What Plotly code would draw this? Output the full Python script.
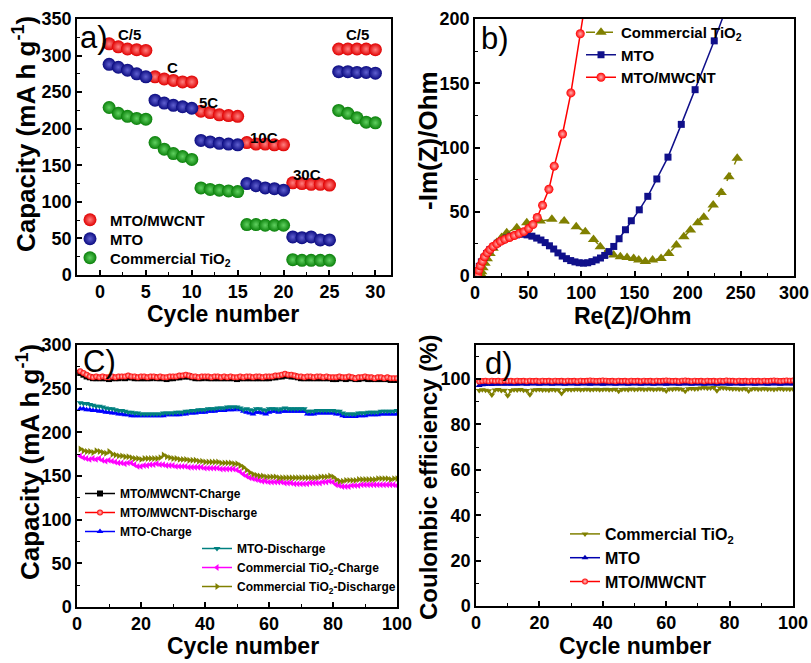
import plotly.graph_objects as go

# ---------------- Panel a: rate capability ----------------
cycles_a = list(range(1, 31))
cap_mwcnt = [316, 312, 309, 308, 307, 271, 268, 266, 264, 264, 224, 222, 219, 218, 217,
             181, 179, 179, 178, 178, 126, 125, 124, 124, 123, 309, 309, 309, 309, 308]
cap_mto = [288, 284, 280, 275, 271, 239, 235, 232, 230, 228, 184, 182, 180, 179, 178,
           125, 122, 119, 118, 116, 52, 51, 52, 48, 48, 278, 278, 277, 277, 276]
cap_tio2 = [229, 221, 217, 214, 213, 181, 172, 166, 162, 158, 119, 117, 116, 115, 114,
            69, 69, 68, 68, 68, 21, 20, 20, 20, 20, 225, 221, 215, 209, 208]
rate_labels = ["C/5", "C", "5C", "10C", "30C", "C/5"]

# ---------------- Panel b: Nyquist ----------------
re_tio2 = [4.7, 5.5, 6.3, 7.5, 9.4, 11.5, 14.1, 17, 20.4, 25, 29.8, 39.3, 48.7, 61.3, 72.3,
           83.9, 95.2, 103.7, 111.5, 117.8, 124, 130.4, 136.7, 143, 149.2, 154, 160.2, 167,
           175, 182.2, 189.4, 196.4, 202.6, 209.5, 215.2, 224, 231.5, 238.8, 246.6]
im_tio2 = [0, 1.5, 3.4, 6.5, 9.9, 13.5, 17.6, 21.5, 26, 30, 33.7, 37.6, 41.5, 42.8, 44.1,
           42.8, 38.4, 34.5, 28.5, 22.8, 18, 16.3, 15, 14.3, 13.7, 12.5, 11.2, 12.5,
           13.7, 17.6, 24.1, 30.6, 35.8, 41.5, 45.7, 55.3, 64.9, 77.3, 91.6]
re_mto = [1.5, 2.5, 4, 6, 8.5, 11, 14, 17.5, 21, 25, 29.5, 34, 39, 44, 49, 53.5, 58, 62,
          66, 70, 74, 78, 82, 86, 90, 94, 98, 102, 106, 110, 114, 118, 122, 126, 130.5,
          135.5, 141.5, 147, 154.5, 162.5, 171, 181.5, 194, 207, 225, 236]
im_mto = [1, 4, 7.5, 11, 14.5, 17.5, 20.5, 23, 25.5, 27.5, 29.5, 31, 32, 32.5, 32, 31,
          29.5, 28, 26, 23.5, 21, 18, 15.5, 13.5, 12, 11, 10.3, 10, 10.3, 11.2, 12.5,
          14, 16, 19, 23, 29, 36, 43, 51.5, 62, 75.5, 92.5, 118, 145, 183, 208]
re_mwcnt = [2.5, 3.5, 5, 7, 9, 11.5, 14, 17, 20.5, 24, 28, 32.5, 37, 41.5, 46, 50.5, 54.5,
            58.5, 63.5, 69.5, 74.5, 82.3, 90.2, 99, 106]
im_mwcnt = [1, 4.5, 8, 11.5, 15, 18, 20.5, 23, 25, 27, 28.5, 30, 31.5, 33, 34.5, 37, 40,
            45.5, 55, 67.5, 85.5, 110.5, 142.5, 188.5, 225]

# ---------------- Panel c: cycling ----------------
cycles_c = list(range(1, 101))
mwcnt_dis = [270, 268, 266, 264, 263, 264, 263, 264, 263, 263,
             264, 263, 264, 264, 264, 265, 264, 264, 263, 264,
             264, 263, 264, 264, 263, 264, 263, 263, 264, 264,
             264, 265, 265, 266, 265, 264, 264, 263, 264, 264,
             264, 263, 264, 264, 263, 264, 263, 264, 263, 263,
             264, 263, 264, 264, 263, 264, 264, 263, 264, 264,
             264, 265, 265, 266, 267, 266, 266, 265, 264, 264,
             263, 264, 264, 263, 264, 264, 263, 264, 263, 263,
             263, 264, 263, 263, 264, 263, 262, 263, 263, 264,
             263, 263, 262, 263, 263, 262, 263, 262, 262, 262]
mwcnt_ch = [268, 266, 264, 263, 262, 262, 262, 262, 262, 261,
            262, 262, 262, 263, 262, 263, 263, 262, 262, 262,
            262, 262, 262, 263, 262, 262, 262, 261, 262, 262,
            263, 263, 264, 264, 264, 263, 262, 262, 262, 263,
            262, 262, 262, 262, 262, 262, 262, 262, 262, 261,
            262, 262, 262, 262, 262, 262, 262, 262, 262, 262,
            263, 263, 264, 264, 265, 265, 264, 264, 263, 262,
            262, 262, 262, 262, 262, 262, 262, 262, 262, 261,
            261, 262, 262, 261, 262, 262, 261, 261, 262, 262,
            261, 261, 261, 261, 261, 261, 261, 260, 260, 260]
mto_ch = [227, 227, 226, 226, 225, 225, 224, 224, 223, 223,
          222, 222, 221, 221, 220, 220, 219, 219, 219, 219,
          219, 219, 219, 219, 219, 219, 219, 220, 220, 220,
          220, 220, 221, 221, 222, 222, 222, 223, 223, 223,
          224, 224, 224, 225, 225, 225, 226, 226, 226, 227,
          226, 224, 223, 222, 221, 223, 223, 222, 221, 223,
          224, 224, 223, 224, 224, 224, 224, 224, 224, 224,
          224, 221, 221, 221, 222, 222, 222, 222, 222, 222,
          221, 221, 219, 218, 218, 218, 218, 219, 219, 219,
          220, 220, 220, 220, 221, 221, 221, 221, 221, 221]
mto_dis = [234, 233, 233, 232, 231, 230, 230, 229, 228, 227,
           227, 226, 225, 225, 224, 223, 223, 222, 222, 221,
           221, 221, 221, 221, 221, 221, 222, 222, 222, 222,
           223, 223, 223, 224, 224, 225, 225, 226, 226, 226,
           227, 227, 227, 228, 228, 228, 229, 229, 229, 229,
           228, 226, 227, 226, 225, 227, 227, 226, 225, 227,
           227, 227, 226, 227, 228, 227, 227, 227, 227, 227,
           227, 224, 224, 224, 225, 225, 225, 225, 225, 225,
           224, 224, 222, 221, 221, 221, 221, 222, 222, 222,
           223, 223, 223, 223, 224, 224, 224, 224, 224, 225]
tio2_ch = [173, 171, 170, 169, 170, 169, 170, 168, 167, 168,
           167, 166, 165, 165, 164, 165, 165, 163, 161, 161,
           162, 162, 163, 163, 164, 163, 163, 162, 162, 162,
           161, 161, 161, 161, 160, 160, 160, 160, 160, 159,
           159, 159, 159, 159, 158, 158, 158, 158, 158, 157,
           155, 152, 150, 148, 147, 146, 145, 144, 144, 143,
           143, 143, 143, 143, 142, 142, 142, 141, 141, 141,
           141, 141, 142, 142, 142, 142, 143, 143, 144, 143,
           140, 139, 138, 138, 138, 139, 139, 139, 140, 140,
           140, 140, 140, 140, 140, 140, 140, 140, 140, 139]
tio2_dis = [181, 179, 178, 178, 177, 179, 178, 177, 176, 178,
            175, 174, 173, 173, 172, 172, 171, 170, 170, 169,
            170, 170, 170, 170, 170, 171, 174, 172, 171, 170,
            170, 169, 169, 169, 168, 168, 168, 167, 167, 166,
            166, 166, 166, 166, 165, 165, 165, 165, 164, 164,
            162, 160, 157, 154, 152, 151, 150, 150, 149, 149,
            149, 149, 148, 148, 148, 148, 148, 148, 148, 148,
            148, 148, 148, 148, 148, 149, 149, 149, 150, 149,
            146, 144, 144, 145, 145, 145, 145, 146, 146, 146,
            146, 146, 146, 147, 147, 147, 147, 146, 147, 147]

# ---------------- Panel d: coulombic efficiency ----------------
ce_tio2 = [95.0, 95.3, 95.1, 94.8, 93.0, 95.2, 95.4, 94.9, 95.1, 92.6,
           95.0, 95.3, 95.2, 95.4, 95.1, 95.0, 93.1, 95.2, 95.3, 95.4,
           95.2, 95.3, 95.1, 95.4, 95.2, 95.3, 93.6, 95.2, 95.4, 95.3,
           95.4, 95.5, 95.3, 95.4, 95.5, 95.3, 95.4, 95.5, 95.3, 95.4,
           95.5, 95.3, 95.4, 95.5, 94.6, 95.4, 95.5, 95.3, 95.6, 95.4,
           95.5, 95.6, 95.4, 95.5, 95.6, 95.4, 95.5, 95.6, 95.4, 94.7,
           95.6, 95.5, 95.7, 95.6, 95.5, 94.6, 95.7, 95.8, 95.6, 95.7,
           96.0, 96.2, 95.9, 96.1, 96.3, 94.8, 96.0, 96.1, 95.9, 95.8,
           95.6, 95.7, 95.5, 95.6, 95.7, 94.7, 95.6, 95.7, 95.5, 95.6,
           95.7, 95.5, 95.6, 95.4, 95.6, 95.7, 95.5, 95.6, 95.5, 95.6]
ce_mto = [97.2, 97.5, 97.6, 97.7, 97.6, 97.8, 97.7, 97.8, 97.7, 97.8,
          97.7, 97.8, 97.7, 97.9, 97.8, 97.7, 97.8, 97.9, 97.8, 97.7,
          97.8, 97.9, 97.8, 97.7, 97.8, 97.9, 97.8, 97.7, 97.8, 97.9,
          97.8, 97.7, 97.8, 97.9, 97.8, 97.7, 97.8, 97.9, 97.8, 97.7,
          97.8, 97.9, 97.8, 97.7, 97.8, 97.9, 97.8, 97.7, 97.8, 97.9,
          97.8, 97.7, 97.8, 97.9, 97.8, 97.7, 97.8, 97.9, 97.8, 97.7,
          97.8, 97.9, 97.8, 97.7, 97.8, 97.9, 97.8, 97.7, 97.8, 97.9,
          97.8, 97.7, 97.8, 97.9, 97.8, 97.7, 97.8, 97.9, 97.8, 97.7,
          97.8, 97.9, 97.8, 97.7, 97.8, 97.9, 97.8, 97.7, 97.8, 97.9,
          97.8, 97.7, 97.8, 97.9, 97.8, 97.7, 97.8, 97.9, 97.8, 97.8]
ce_mwcnt = [98.9, 99.1, 99.2, 99.0, 99.3, 99.1, 99.2, 99.0, 99.3, 99.1,
            99.2, 99.0, 99.3, 99.1, 99.2, 99.0, 99.3, 99.1, 99.2, 99.0,
            99.3, 99.1, 99.2, 99.0, 99.3, 99.1, 99.2, 99.0, 99.3, 99.1,
            99.2, 99.0, 99.3, 99.1, 99.2, 99.4, 99.3, 99.1, 99.2, 99.4,
            99.3, 99.1, 99.2, 99.0, 99.3, 99.1, 99.2, 99.0, 99.3, 99.1,
            99.2, 99.0, 99.3, 99.1, 99.2, 99.0, 99.3, 99.1, 99.2, 99.4,
            99.3, 99.1, 99.2, 99.0, 99.3, 99.4, 99.2, 99.0, 99.3, 99.1,
            99.2, 99.0, 99.3, 99.1, 99.2, 99.0, 99.3, 99.1, 99.4, 99.3,
            99.2, 99.0, 99.3, 99.1, 99.2, 99.0, 99.3, 99.1, 99.2, 99.0,
            99.3, 99.1, 99.2, 99.4, 99.3, 99.1, 99.2, 99.4, 99.3, 99.4]

W, H = 811, 663
FONT = "Liberation Sans, Arial, sans-serif"
OLIVE = "#808000"

fig = go.Figure()

# Panel a (one legend box per entry so the rows sit where the reference has them)
def ball(edge, center):
    return dict(symbol="circle", size=13, color=edge, line=dict(width=0),
                gradient=dict(type="radial", color=center))

fig.add_trace(go.Scatter(x=cycles_a, y=cap_mwcnt, mode="markers", name="MTO/MWCNT",
                         marker=ball("#e00000", "#ff8080"), xaxis="x", yaxis="y", legend="legend"))
fig.add_trace(go.Scatter(x=cycles_a, y=cap_mto, mode="markers", name="MTO",
                         marker=ball("#0a0a80", "#6060d0"), xaxis="x", yaxis="y", legend="legend6"))
fig.add_trace(go.Scatter(x=cycles_a, y=cap_tio2, mode="markers", name="Commercial TiO<sub>2</sub>",
                         marker=ball("#0a800a", "#60d060"), xaxis="x", yaxis="y", legend="legend7"))

# Panel b
fig.add_trace(go.Scatter(x=re_tio2, y=im_tio2, mode="lines+markers", name="Commercial TiO<sub>2</sub>",
                         line=dict(color=OLIVE, width=1.5, dash="dash"),
                         marker=dict(symbol="triangle-up", size=10, color=OLIVE),
                         xaxis="x2", yaxis="y2", legend="legend2"))
fig.add_trace(go.Scatter(x=re_mto, y=im_mto, mode="lines+markers", name="MTO",
                         line=dict(color="#10108a", width=1.5),
                         marker=dict(symbol="square", size=7, color="#10108a"),
                         xaxis="x2", yaxis="y2", legend="legend2"))
fig.add_trace(go.Scatter(x=re_mwcnt, y=im_mwcnt, mode="lines+markers", name="MTO/MWCNT",
                         line=dict(color="#ff0000", width=1.5),
                         marker=dict(symbol="circle", size=9, color="#ff0000",
                                     gradient=dict(type="radial", color="#ffb0b0")),
                         xaxis="x2", yaxis="y2", legend="legend2"))

# Panel c
c_series = [
    ("MTO/MWCNT-Charge", mwcnt_ch, "#000000", "square", "legend3"),
    ("MTO/MWCNT-Discharge", mwcnt_dis, "#ff0000", "circle", "legend3"),
    ("MTO-Charge", mto_ch, "#0000ff", "triangle-up", "legend3"),
    ("MTO-Discharge", mto_dis, "#008080", "triangle-down", "legend4"),
    ("Commercial TiO<sub>2</sub>-Charge", tio2_ch, "#ff00ff", "triangle-left", "legend4"),
    ("Commercial TiO<sub>2</sub>-Discharge", tio2_dis, OLIVE, "triangle-right", "legend4"),
]
for name, vals, col, sym, lg in c_series:
    mk = dict(symbol=sym, size=6, color=col, line=dict(width=0))
    if sym == "circle":
        mk = dict(symbol="circle", size=6, color=col, line=dict(width=0),
                  gradient=dict(type="radial", color="#ffd0d0"))
    fig.add_trace(go.Scatter(x=cycles_c, y=vals, mode="lines+markers", name=name,
                             line=dict(color=col, width=1.5), marker=mk,
                             xaxis="x3", yaxis="y3", legend=lg))

# Panel d
d_series = [
    ("Commercial TiO<sub>2</sub>", ce_tio2, OLIVE, "triangle-down"),
    ("MTO", ce_mto, "#0000b0", "triangle-up"),
    ("MTO/MWCNT", ce_mwcnt, "#ff0000", "circle"),
]
for name, vals, col, sym in d_series:
    mk = dict(symbol=sym, size=6, color=col, line=dict(width=0))
    if sym == "circle":
        mk["gradient"] = dict(type="radial", color="#ffd0d0")
    fig.add_trace(go.Scatter(x=cycles_c, y=vals, mode="lines+markers", name=name,
                             line=dict(color=col, width=1.5), marker=mk,
                             xaxis="x4", yaxis="y4", legend="legend5"))

tickfont = dict(family=FONT, size=18, color="black", weight="bold")
titlefont = dict(family=FONT, size=23, color="black", weight="bold")
ytitlefont = dict(family=FONT, size=26, color="black", weight="bold")
dtitlefont = dict(family=FONT, size=24, color="black", weight="bold")


def axis(rng, dtick, mdtick, domain, anchor):
    return dict(range=rng, dtick=dtick, tick0=0, domain=domain, anchor=anchor,
                showline=True, linecolor="black", linewidth=1.5, mirror=True,
                ticks="inside", ticklen=5, tickwidth=1.5, tickcolor="black",
                minor=dict(ticks="inside", ticklen=3, tickwidth=1.2, tickcolor="black", dtick=mdtick),
                showgrid=False, zeroline=False, tickfont=tickfont, automargin=False)


def px_x(a, b):
    return [a / W, b / W]


def px_y(top, bottom):
    return [1 - bottom / H, 1 - top / H]


layout = dict(
    width=W, height=H, margin=dict(l=0, r=0, t=0, b=0),
    paper_bgcolor="white", plot_bgcolor="white",
    font=dict(family=FONT, color="black"),
    xaxis=axis([-2.5, 31.7], 5, 2.5, px_x(77, 391), "y"),
    yaxis=axis([0, 350], 50, 25, px_y(19, 275), "x"),
    xaxis2=axis([0, 300], 50, 25, px_x(475, 794), "y2"),
    yaxis2=axis([0, 200], 50, 25, px_y(19, 276), "x2"),
    xaxis3=axis([0, 100], 20, 10, px_x(77, 397), "y3"),
    yaxis3=axis([0, 300], 50, 25, px_y(345, 607), "x3"),
    xaxis4=axis([0, 100], 20, 10, px_x(476, 793), "y4"),
    yaxis4=axis([0, 115], 20, 10, px_y(345, 606), "x4"),
    showlegend=True,
)


def legend(x, y, size, anchor="top"):
    return dict(x=x / W, y=1 - y / H, xanchor="left", yanchor=anchor, xref="paper", yref="paper",
                bgcolor="rgba(0,0,0,0)", borderwidth=0,
                font=dict(family=FONT, size=size, color="black", weight="bold"))


layout["legend"] = legend(70, 220, 15, "middle")
layout["legend6"] = legend(70, 239, 15, "middle")
layout["legend7"] = legend(70, 258, 15, "middle")
layout["legend2"] = legend(581, 16, 15)
layout["legend3"] = legend(80, 479, 12)
layout["legend4"] = legend(197, 534, 12)
layout["legend5"] = legend(565, 517, 16)
fig.update_layout(**layout)

# axis titles (placed as text at the reference positions)
cap_title = "Capacity (mA h g<sup>-1</sup>)"
axis_titles = [
    ("Cycle number", 223, 314, 0, titlefont),
    (cap_title, 25, 134, -90, ytitlefont),
    ("Re(Z)/Ohm", 633, 316, 0, titlefont),
    ("-Im(Z)/Ohm", 428, 140, -90, ytitlefont),
    ("Cycle number", 243, 646, 0, titlefont),
    (cap_title, 28, 462, -90, ytitlefont),
    ("Cycle number", 635, 646, 0, titlefont),
    ("Coulombic efficiency (%)", 428, 477, -90, dtitlefont),
]
for txt, px, py, ang, fnt in axis_titles:
    fig.add_annotation(x=px / W, y=1 - py / H, xref="paper", yref="paper", text=txt,
                       showarrow=False, xanchor="center", yanchor="middle", textangle=ang,
                       font=fnt)

# rate labels in panel a
rate_pos = [(3.2, 329), (7.85, 284), (11.8, 236), (17.9, 188), (22.5, 138), (28.0, 329)]
for lab, (xx, yy) in zip(rate_labels, rate_pos):
    fig.add_annotation(x=xx, y=yy, xref="x", yref="y", text=lab, showarrow=False,
                       font=dict(family=FONT, size=15, color="black", weight="bold"))

# panel labels
for lab, px, py in [("a)", 78, 37), ("b)", 479, 38), ("C)", 81, 362), ("d)", 483, 363)]:
    fig.add_annotation(x=px / W, y=1 - py / H, xref="paper", yref="paper", text=lab,
                       showarrow=False, xanchor="left", yanchor="middle",
                       font=dict(family=FONT, size=31, color="black"))

fig.write_html("out.html")
